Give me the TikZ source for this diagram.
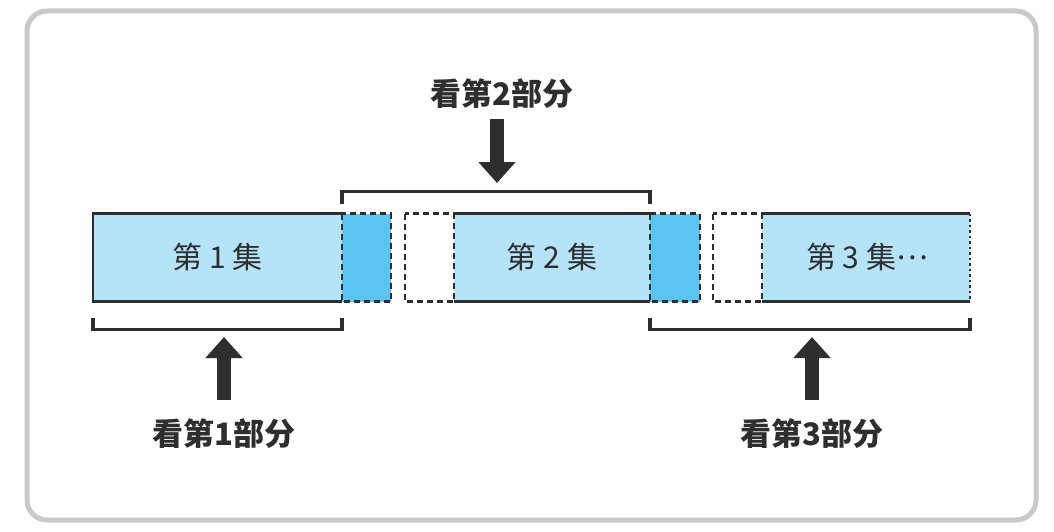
\documentclass[tikz,border=0pt]{standalone}
\usepackage{fontspec}
\newfontfamily\cjk{Noto Sans CJK SC}
\usetikzlibrary{arrows.meta}
\definecolor{lightblue}{HTML}{B5E4F8}
\definecolor{darkblue}{HTML}{5BC5F2}
\definecolor{ink}{HTML}{2E2E2E}
\definecolor{framegray}{HTML}{C9C9C9}
\tikzset{
  box/.style={inner sep=0pt, outer sep=0pt, minimum height=88pt},
  epbox/.style={box, fill=lightblue, font=\cjk\fontsize{30}{30}\selectfont, text=ink},
  overlap/.style={box, fill=darkblue},
  gap/.style={box, fill=white},
  edge/.style={draw=ink, line width=2.6pt},
  dashedge/.style={draw=ink, line width=2.6pt, dash pattern=on 6pt off 4pt},
  dotedge/.style={draw=ink, line width=2.6pt, dash pattern=on 2.5pt off 3pt},
  bracket/.style={draw=ink, line width=3.6pt},
  partlabel/.style={font=\cjk\bfseries\fontsize{31}{31}\selectfont, text=ink, inner sep=0pt},
  bigarrow/.style={draw=ink, line width=14pt, -{Triangle[width=36pt,length=21pt]}},
}
\begin{document}
\begin{tikzpicture}[x=1pt,y=-1pt]
\useasboundingbox (0,0) rectangle (1054,532);
\draw[framegray, line width=5pt, rounded corners=20pt] (27,11) rectangle (1036,520);

% episode boxes
\node[epbox, minimum width=249pt] (e1) at (217.5,257.5) {第 1 集};
\node[overlap, minimum width=49pt] (o1) at (366.5,257.5) {};
\node[gap, minimum width=49pt] (g1) at (429.5,257.5) {};
\node[epbox, minimum width=196pt] (e2) at (552,257.5) {第 2 集};
\node[overlap, minimum width=50pt] (o2) at (675,257.5) {};
\node[gap, minimum width=49pt] (g2) at (737.5,257.5) {};
\node[epbox, minimum width=208pt] (e3) at (866,257.5) {\hspace{2pt}第 3 集\raisebox{9pt}{…}};

% borders
\draw[edge] (e1.north east) -- (e1.north west) -- (e1.south west) -- (e1.south east);
\draw[edge] (e2.north west) -- (e2.north east);
\draw[edge] (e2.south west) -- (e2.south east);
\draw[edge] (e3.north west) -- (e3.north east);
\draw[edge] (e3.south west) -- (e3.south east);
\draw[dotedge] (e3.north east) -- (e3.south east);
\draw[dashedge] (o1.north west) rectangle (o1.south east);
\draw[dashedge] (g1.north west) rectangle (g1.south east);
\draw[dashedge] (o2.north west) rectangle (o2.south east);
\draw[dashedge] (g2.north west) rectangle (g2.south east);

% brackets
\draw[bracket] ([yshift=10pt]o1.north west) -- ++(0,-12) -| ([yshift=10pt]o2.north west);
\draw[bracket] ([yshift=-16pt]e1.south west) -- ++(0,12) -| ([yshift=-16pt]e1.south east);
\draw[bracket] ([yshift=-16pt]o2.south west) -- ++(0,12) -| ([yshift=-16pt]e3.south east);

% labels
\node[partlabel] (l2) at (502,94) {看第2部分};
\node[partlabel] (l1) at (224,434) {看第1部分};
\node[partlabel] (l3) at (812,434) {看第3部分};

\coordinate (t2) at (497,183);
\coordinate (s2) at (497,119);
\coordinate (t1) at (224,337);
\coordinate (s1) at (224,400);
\coordinate (t3) at (812,337);
\coordinate (s3) at (812,400);
\draw[bigarrow] (s2) -- (t2);
\draw[bigarrow] (s1) -- (t1);
\draw[bigarrow] (s3) -- (t3);
\end{tikzpicture}
\end{document}
